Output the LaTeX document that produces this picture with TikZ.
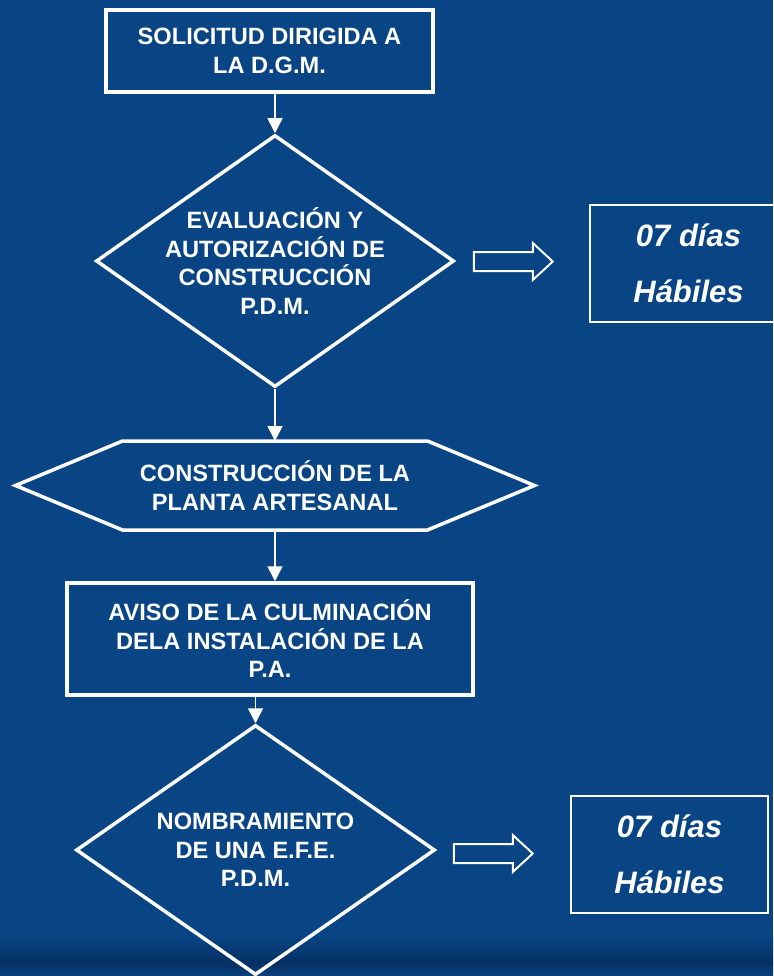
\documentclass[tikz,border=0pt]{standalone}
\usepackage{fontspec}
\setmainfont{Liberation Sans}
\usetikzlibrary{shapes.geometric,arrows.meta}
\definecolor{fondo}{RGB}{9,68,133}
\definecolor{fondooscuro}{RGB}{5,48,98}
\tikzset{
  paso/.style={draw=white, line width=3.5pt, text=white, align=center, inner sep=0pt,
    font=\fontsize{23.6}{28.5}\selectfont\bfseries},
  caja/.style={paso, rectangle},
  rombo/.style={paso, diamond, shape aspect=1.42, inner sep=-8pt},
  plazo/.style={draw=white, line width=2pt, rectangle, text=white, align=center,
    minimum width=197pt, minimum height=117pt,
    font=\fontsize{31}{56}\selectfont\bfseries\itshape},
  flecha/.style={draw=white, line width=1.5pt, -{Triangle[width=15pt,length=15pt]}},
  pics/bloque/.style={code={
    \draw[white, line width=2pt] (0,-9.5) -- (59,-9.5) -- (59,-18.5) -- (79,0)
      -- (59,18.5) -- (59,9.5) -- (0,9.5) -- cycle;}}
}

\begin{document}
\begin{tikzpicture}[x=1pt, y=-1pt, node distance=210pt]
  % Fondo
  \fill[fondo] (0,0) rectangle (773,976);
  \shade[top color=fondo, bottom color=fondooscuro] (0,935) rectangle (773,963);
  \shade[top color=fondooscuro, bottom color=fondo!85!fondooscuro] (0,963) rectangle (773,976);
  \clip (0,0) rectangle (773,976);

  % Pasos
  \node[caja, minimum width=327pt, minimum height=82pt] (solicitud) at (269.5,51)
    {SOLICITUD DIRIGIDA A\\LA D.G.M.};
  \node[rombo, minimum width=358pt, minimum height=252pt, below of=solicitud, xshift=5.5pt] (evaluacion)
    {EVALUACIÓN Y\\AUTORIZACIÓN DE\\CONSTRUCCIÓN\\P.D.M.};
  \node[paso, draw=none, outer sep=0pt, minimum width=519pt, minimum height=89pt,
    below of=evaluacion, node distance=224.5pt] (construccion)
    {CONSTRUCCIÓN DE LA\\PLANTA ARTESANAL};
  \node[caja, minimum width=406pt, minimum height=112pt, below of=construccion,
    node distance=153.5pt, xshift=-5pt] (aviso)
    {AVISO DE LA CULMINACIÓN\\DELA INSTALACIÓN DE LA\\P.A.};
  \node[rombo, minimum width=359pt, minimum height=250pt, below of=aviso,
    node distance=211pt, xshift=-14.5pt] (nombramiento)
    {NOMBRAMIENTO\\DE UNA E.F.E.\\P.D.M.};

  % Plazos
  \node[plazo, right of=evaluacion, node distance=413.5pt, yshift=-2.5pt] (plazoA) {07 días\\Hábiles};
  \node[plazo, right of=nombramiento, node distance=414pt, yshift=-4.5pt] (plazoB) {07 días\\Hábiles};

  % Contorno hexagonal
  \draw[white, line width=3.5pt] (construccion.west) -- ([xshift=107pt]construccion.north west)
    -- ([xshift=-107pt]construccion.north east) -- (construccion.east)
    -- ([xshift=-107pt]construccion.south east) -- ([xshift=107pt]construccion.south west) -- cycle;

  % Conexiones
  \draw[flecha] (evaluacion.north |- solicitud.south) -- (evaluacion.north);
  \draw[flecha] (evaluacion.south) -- (construccion.north);
  \draw[flecha] (construccion.south) -- (construccion.south |- aviso.north);
  \draw[flecha] (nombramiento.north |- aviso.south) -- (nombramiento.north);
  \path (evaluacion.east) ++(18,0.5) pic {bloque};
  \path (nombramiento.east) ++(17,3.5) pic {bloque};
\end{tikzpicture}
\end{document}
